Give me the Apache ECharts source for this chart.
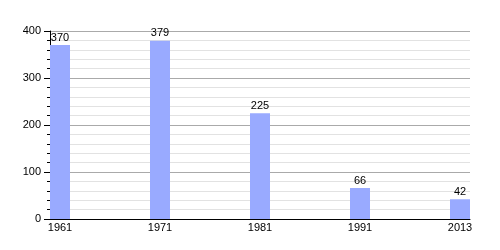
<!DOCTYPE html>
<html><head><meta charset="utf-8">
<script src="https://cdn.jsdelivr.net/npm/echarts@6/dist/echarts.min.js"></script>
<style>html,body{margin:0;padding:0;background:#fff}#c{width:500px;height:250px}</style>
</head><body><div id="c"></div>
<script>
const years = ['1961', '1971', '1981', '1991', '2013'];
const population = [370, 379, 225, 66, 42];
const yTicks = [0, 100, 200, 300, 400];

const chart = echarts.init(document.getElementById('c'), null, {renderer: 'canvas'});
const font = 'Liberation Sans, Arial, sans-serif';
chart.setOption({
  animation: false,
  textStyle: {fontFamily: font},
  grid: {left: 50, right: 30, top: 31, bottom: 31, containLabel: false},
  xAxis: {
    type: 'value', min: -0.1, max: 4.1,
    axisLine: {show: true, onZero: false, lineStyle: {color: '#000', width: 1}},
    axisTick: {show: false},
    splitLine: {show: false},
    axisLabel: {
      customValues: years.map((_, i) => i),
      formatter: v => years[Math.round(v)],
      color: '#000', fontSize: 11, fontFamily: font, margin: 3
    }
  },
  yAxis: {
    type: 'value', min: yTicks[0], max: yTicks[yTicks.length - 1], interval: 100,
    axisLine: {show: true, onZero: false, lineStyle: {color: '#000', width: 1}},
    axisTick: {show: true, length: 6, lineStyle: {color: '#000'}},
    minorTick: {show: true, splitNumber: 5, length: 3, lineStyle: {color: '#000'}},
    splitLine: {show: true, lineStyle: {color: '#aaaaaa', width: 1}},
    minorSplitLine: {show: true, lineStyle: {color: '#e2e2e2', width: 1}},
    axisLabel: {color: '#000', fontSize: 11, fontFamily: font, margin: 9}
  },
  series: [{
    type: 'bar',
    barWidth: 20,
    data: population.map((v, i) => [i, v]),
    itemStyle: {color: '#99aaff'},
    label: {show: true, position: 'top', distance: 2, color: '#000', fontSize: 11, fontFamily: font,
      formatter: p => p.value[1]}
  }]
});
</script></body></html>
